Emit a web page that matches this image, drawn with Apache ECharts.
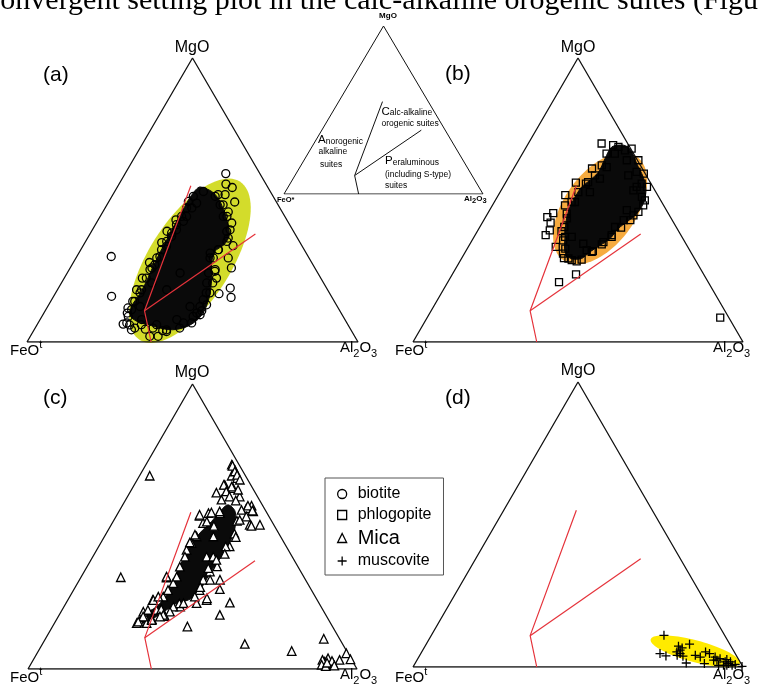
<!DOCTYPE html>
<html><head><meta charset="utf-8">
<script src="https://cdn.jsdelivr.net/npm/echarts@6/dist/echarts.min.js"></script>
<style>html,body{margin:0;padding:0;background:#fff}#c{width:762px;height:687px}</style>
</head><body><div id="c"></div>
<script>
// Ternary compositions written as [Al2O3 %, MgO %]; FeOt = 100 - Al2O3 - MgO
const triangleCorners = [[0,0],[100,0],[0,100],[0,0]];
const boundaryUpper = [22,55];
const boundaryJunction = [30,11];
const boundaryRight = [50,38];
const boundaryBase = [37.5,0];

// (a) biotite: outline of the densely overlapped core + individually visible analyses
const biotiteCore = [[25.0,54.6],[29.3,53.0],[33.0,50.1],[36.5,46.0],[40.1,41.3],[42.4,37.4],[42.4,34.3],[40.8,31.9],[41.9,27.8],[44.8,21.9],[47.1,16.1],[48.1,10.8],[47.5,7.6],[45.4,5.3],[41.8,4.3],[37.7,4.9],[33.6,6.1],[29.5,7.3],[26.5,9.3],[25.3,12.5],[25.6,16.7],[25.4,21.3],[24.8,26.6],[24.4,31.9],[24.2,37.0],[24.0,41.3],[23.9,46.2],[23.8,50.7],[24.2,53.6]];
const biotite = [[30.4,59.3],[32.3,55.6],[34.8,54.4],[38.1,49.3],[37.9,45.8],[40.9,41.9],[40.9,38.9],[45.3,33.9],[46.0,29.6],[48.7,26.1],[46.0,22.5],[51.9,19.0],[49.5,17.0],[53.8,15.7],[10.4,30.1],[17.5,16.1],[25.9,6.3],[25.2,10.2],[29.4,4.3],[36.1,2.0],[38.6,2.0],[47.3,11.0],[46.2,10.2],[43.9,6.7],[40.3,3.7],[36.1,6.1],[30.7,7.9],[30.1,4.9],[26.1,9.0],[27.9,12.5],[24.8,14.3],[23.9,18.4],[24.4,25.5],[25.1,30.1],[27.3,20.8],[25.4,39.5],[26.1,44.2],[26.8,48.9],[26.8,53.0],[31.2,51.3],[33.9,51.9],[34.2,48.3],[42.5,36.6],[40.5,29.6],[44.1,25.5],[43.9,20.8],[45.5,17.3],[45.7,9.0],[41.3,7.9],[43.0,12.5],[33.0,18.4],[34.1,24.3],[25.0,27.2],[25.3,33.7],[25.5,17.3],[25.1,37.2],[26.0,42.5],[26.2,47.2],[37.2,44.2],[41.6,32.5],[39.7,31.3],[42.7,24.3],[45.8,14.9],[46.0,12.5],[26.8,6.7],[23.6,22.5],[23.2,35.0],[23.5,43.0],[24.0,49.5],[24.5,12.0],[28.0,6.0],[33.5,4.5],[39.0,4.0],
  [25.9,11.4],[25.4,14.3],[25.4,18.4],[24.8,22.5],[24.7,26.1],[24.4,29.6],[24.4,32.5],[24.5,35.4],[24.5,38.4],[24.5,41.3],[24.6,44.2],[24.6,47.2],[24.6,51.3],[23.0,28.0],[22.8,39.0],
  [31.8,51.9],[35.1,48.3],[38.3,44.2],[41.6,39.5],[42.7,35.4],[41.5,32.5],[41.5,29.6],[44.3,24.9],[45.7,20.8],[46.6,17.3],[47.7,13.1],[47.5,9.6],[46.4,6.7],[43.7,4.9],[40.0,4.3],[35.6,4.9],[31.5,6.1]];
const biotiteFieldCenter = [34.9,28.6];
const biotiteFieldAxes = [28.3,12.4];
const biotiteFieldAngle = [57.7];

// (b) phlogopite
const phlogopiteCore = [[25.9,68.7],[29.2,69.3],[32.1,67.7],[36.4,62.8],[40.7,58.1],[43.9,53.4],[45.4,48.7],[45.2,45.2],[43.7,42.3],[42.2,39.9],[41.5,36.4],[39.7,34.0],[37.7,31.7],[36.4,29.4],[33.1,29.4],[30.2,31.7],[27.3,37.6],[25.0,42.9],[23.8,47.5],[23.6,51.7],[23.8,54.6],[25.1,56.9],[26.3,59.9],[25.9,64.6]];
const phlogopite = [[22.2,69.9],[27.9,68.7],[30.5,67.5],[32.8,64.0],[37.8,59.9],[35.9,58.7],[41.4,55.8],[45.7,48.1],[44.5,44.6],[41.6,46.4],[41.0,40.5],[41.4,37.6],[40.1,35.2],[23.7,61.1],[21.3,56.1],[24.9,56.3],[20.3,51.7],[24.4,49.3],[19.8,45.4],[18.7,44.0],[20.7,42.0],[21.8,39.3],[21.4,37.6],[24.9,43.5],[27.6,37.0],[29.7,32.9],[32.4,29.4],[35.4,28.4],[36.5,32.3],[37.5,23.8],[33.7,21.1],[29.6,37.0],[34.3,34.6],[22.0,48.1],[27.2,52.8],[27.9,57.5],[27.9,61.6],[28.0,66.3],[40.1,53.4],[42.4,42.9],[88.8,8.6],[40.5,54.6],[43.8,51.1],[26.5,33.5],[25.5,39.0],[31.0,29.5],[38.5,32.0],
  [29.9,31.1],[27.6,35.8],[25.6,40.5],[24.0,45.2],[23.4,49.3],[23.7,52.8],[24.5,55.8],[25.8,58.7],[26.1,62.2],[25.5,66.3],[26.0,69.3],
  [32.2,68.1],[36.3,64.0],[40.3,59.3],[43.6,54.6],[45.3,49.9],[45.4,45.8],[44.4,42.9],[42.9,40.3],[41.7,37.0],[40.0,34.4],[38.3,31.7],[36.6,29.0],[33.7,28.8]];
const phlogopiteFieldCenter = [33.2,47.0];
const phlogopiteFieldAxes = [19.25,10.9];
const phlogopiteFieldAngle = [54.6];

// (c) Mica
const micaCore = [[32.0,57.6],[35.3,55.3],[38.2,49.4],[39.2,44.2],[39.1,39.4],[38.6,35.4],[38.5,30.7],[38.4,26.6],[36.6,24.2],[33.7,23.1],[31.7,20.7],[29.2,17.8],[26.0,16.1],[24.8,18.4],[28.2,21.9],[29.2,27.7],[28.2,34.8],[27.8,41.8],[28.4,47.7],[29.9,51.7],[30.7,55.3]];
const mica = [[3.1,67.8],[12.1,32.2],[26.1,71.7],[28.1,69.7],[28.0,67.8],[30.1,67.0],[27.5,64.6],[30.6,63.5],[34.1,60.5],[29.1,59.4],[39.3,57.3],[38.2,56.4],[40.8,55.3],[45.2,50.6],[42.1,50.6],[25.3,53.7],[27.5,54.7],[31.0,54.7],[27.6,44.2],[34.6,39.4],[36.6,39.4],[26.1,32.1],[38.2,34.2],[44.3,28.0],[38.3,27.7],[49.7,23.3],[42.2,24.2],[48.8,19.0],[41.0,14.9],[25.8,24.2],[28.7,20.7],[32.3,18.6],[35.3,21.9],[61.5,8.8],[77.0,6.3],[84.6,10.6],[94.0,5.5],[93.1,3.2],[96.3,3.4],[88.9,2.6],[90.8,1.8],[89.3,3.8],[91.7,2.0],[87.9,3.2],[25.7,16.6],[25.0,16.1],[26.3,18.4],[28.0,16.1],[28.9,17.5],[25.0,20.1],[28.2,35.9],[27.3,41.8],[28.0,46.5],[27.6,51.2],[29.1,30.1],[28.4,25.4],[33.1,46.5],[39.7,23.1],[37.6,31.3],[42.7,31.3],[88.5,1.5],[90.0,1.0],[91.0,2.8],[89.8,2.2],[92.5,1.2],[39.5,36.0],[39.8,43.0],[39.0,47.5],[37.5,52.0],[30.0,21.0],[34.5,23.0],
  [26.5,71.3],[28.2,69.3],[29.5,68.1],[31.2,66.4],[27.2,64.6],[29.9,64.0],[32.4,62.9],[26.3,61.9],[29.1,62.3],[31.0,60.5],[33.6,59.1],[38.2,57.3],[40.4,55.6],[37.0,55.8],[39.6,53.5],[42.8,50.2],[38.2,52.3],[30.6,55.3],[28.3,54.9],[25.1,54.1],[28.5,51.7],[31.4,50.2],[40.0,46.3],[38.6,43.0],[39.6,40.4],[38.1,38.3],[37.1,35.4],[39.7,31.3],[38.0,28.7],[42.0,24.8],[38.0,25.4],[35.7,23.1],[33.2,21.9],[33.1,20.1],[31.6,19.0],[26.0,24.2],[25.9,32.4],[27.0,44.4],[27.2,47.1],[28.0,39.4],[29.0,32.4],[28.7,27.7],[26.9,25.4],[26.1,20.7],[25.8,18.4],[25.2,16.6],[29.0,17.2],[30.9,18.4]];

// (d) muscovite
const muscovite = [[70.5,11.1],[72.5,4.7],[74.7,3.9],[76.8,7.3],[78.2,6.7],[78.6,4.7],[79.9,3.8],[79.8,8.0],[82.1,1.4],[83.5,4.1],[86.0,5.3],[87.5,4.7],[87.7,1.2],[89.8,3.5],[91.6,2.9],[93.7,1.8],[95.0,1.2],[96.4,0.6],[92.3,0.6],[99.6,0.2],[85.3,3.5],[89.9,2.4],[93.8,0.6],[78.0,4.1],[93.8,2.6],[97.2,0.9],[90.9,2.4],[95.3,1.8],[94.8,0.6],[78.0,5.9],[77.3,5.3]];
const muscoviteFieldCenter = [82.8,5.5];
const muscoviteFieldAxes = [14.0,3.3];
const muscoviteFieldAngle = [-15];

const legendNames = ['biotite','phlogopite','Mica','muscovite'];

const H = Math.sqrt(3) / 2;
function toXY(p) { const al = p[0] / 100, mg = p[1] / 100; return [al + mg / 2, mg * H]; }

const grids = [
  {left: 27, top: 58, width: 331, height: 284},
  {left: 413, top: 58, width: 330, height: 284},
  {left: 28, top: 384, width: 329, height: 285},
  {left: 413, top: 382, width: 330, height: 285},
  {left: 284, top: 26, width: 199, height: 168}
];

const RED = '#e5333b';
const series = [];

function outline(gi, color, width) {
  series.push({type: 'line', xAxisIndex: gi, yAxisIndex: gi, data: triangleCorners.map(toXY),
    symbol: 'none', lineStyle: {color: color, width: width}, silent: true, z: 3});
}
function boundaries(gi, color, width) {
  [[boundaryUpper, boundaryJunction, boundaryBase], [boundaryJunction, boundaryRight]].forEach(function (seg) {
    series.push({type: 'line', xAxisIndex: gi, yAxisIndex: gi, data: seg.map(toXY),
      symbol: 'none', lineStyle: {color: color, width: width}, silent: true, z: 5});
  });
}
function core(gi, pts) {
  series.push({type: 'custom', xAxisIndex: gi, yAxisIndex: gi, data: [[0, 0]], silent: true, z: 2,
    renderItem: function (params, api) {
      return {type: 'polygon', shape: {points: pts.map(function (p) { return api.coord(toXY(p)); }), smooth: 0.3},
        style: {fill: '#0a0a0a', stroke: '#0a0a0a', lineWidth: 1}};
    }});
}
function field(gi, center, axes, angle, fill) {
  series.push({type: 'custom', xAxisIndex: gi, yAxisIndex: gi, data: [[0, 0]], silent: true, z: 1,
    renderItem: function (params, api) {
      const c = api.coord(toXY(center));
      const side = api.size([1, 0])[0];
      const a = axes[0] / 100 * side, b = axes[1] / 100 * side;
      const th = angle[0] * Math.PI / 180;
      const pts = [];
      for (let k = 0; k < 96; k++) {
        const t = k / 96 * 2 * Math.PI;
        const ex = a * Math.cos(t), ey = b * Math.sin(t);
        pts.push([c[0] + ex * Math.cos(th) - ey * Math.sin(th), c[1] - (ex * Math.sin(th) + ey * Math.cos(th))]);
      }
      return {type: 'polygon', shape: {points: pts}, style: {fill: fill}};
    }});
}
function points(gi, name, arr, symbol, size, fill) {
  series.push({type: 'scatter', name: name, xAxisIndex: gi, yAxisIndex: gi, data: arr.map(toXY),
    symbol: symbol, symbolSize: size, silent: true, z: 4,
    itemStyle: {color: fill, borderColor: '#000', borderWidth: 1.3, opacity: 1}});
}

const PLUS = 'path://M5,0L5,10M0,5L10,5';

field(0, biotiteFieldCenter, biotiteFieldAxes, biotiteFieldAngle, '#d3dc2b');
core(0, biotiteCore);
points(0, 'biotite', biotite, 'circle', 8, 'transparent');
outline(0, '#111', 1.3); boundaries(0, RED, 1.2);

field(1, phlogopiteFieldCenter, phlogopiteFieldAxes, phlogopiteFieldAngle, '#f6ab3f');
core(1, phlogopiteCore);
points(1, 'phlogopite', phlogopite, 'rect', 7, 'transparent');
outline(1, '#111', 1.3); boundaries(1, RED, 1.2);

core(2, micaCore);
points(2, 'Mica', mica, 'triangle', 8.5, '#fff');
outline(2, '#111', 1.3); boundaries(2, RED, 1.2);

field(3, muscoviteFieldCenter, muscoviteFieldAxes, muscoviteFieldAngle, '#ffea00');
points(3, 'muscovite', muscovite, PLUS, 9, 'transparent');
outline(3, '#111', 1.3); boundaries(3, RED, 1.2);

outline(4, '#111', 1); boundaries(4, '#111', 1);

const SANS = '"Liberation Sans", Arial, sans-serif';
const graphics = [];
function txt(x, y, text, o) {
  graphics.push({type: 'text', x: x, y: y, silent: true, z: 10,
    style: Object.assign({text: text, fill: '#000', fontFamily: SANS, fontSize: 15, align: 'left', verticalAlign: 'middle'}, o || {})});
}
const feRich = {m: {fontSize: 15, lineHeight: 19, verticalAlign: 'bottom', fontFamily: SANS}, p: {fontSize: 11, lineHeight: 19, verticalAlign: 'top', fontFamily: SANS}};
const alRich = {m: {fontSize: 15, lineHeight: 19, verticalAlign: 'top', fontFamily: SANS}, s: {fontSize: 11, lineHeight: 19, verticalAlign: 'bottom', fontFamily: SANS}};
const panelLabels = [
  {mg: [192, 48], fe: [10, 349], al: [340, 350], tag: [43, 75], t: '(a)'},
  {mg: [578, 48], fe: [395, 349], al: [713, 350], tag: [445, 74], t: '(b)'},
  {mg: [192, 373], fe: [10, 676], al: [340, 677], tag: [43, 398], t: '(c)'},
  {mg: [578, 371], fe: [395, 676], al: [713, 677], tag: [445, 398], t: '(d)'}
];
panelLabels.forEach(function (L) {
  txt(L.mg[0], L.mg[1], 'MgO', {align: 'center', fontSize: 16});
  txt(L.fe[0], L.fe[1], '{m|FeO}{p|t}', {rich: feRich});
  txt(L.al[0], L.al[1], '{m|Al}{s|2}{m|O}{s|3}', {rich: alRich});
  txt(L.tag[0], L.tag[1], L.t, {fontSize: 21});
});

// inset labels
const sm = {fontSize: 8.5, lineHeight: 12, verticalAlign: 'bottom', fontFamily: SANS};
const bg = {fontSize: 11.5, lineHeight: 12, verticalAlign: 'bottom', fontFamily: SANS};
txt(388, 16, 'MgO', {align: 'center', fontSize: 8, fontWeight: 'bold'});
txt(277, 199.5, 'FeO*', {fontSize: 7.5, fontWeight: 'bold'});
txt(464, 200, '{m|Al}{s|2}{m|O}{s|3}', {rich: {m: {fontSize: 8, fontWeight: 'bold', fontFamily: SANS, lineHeight: 10, verticalAlign: 'top'}, s: {fontSize: 7.5, fontWeight: 'bold', fontFamily: SANS, lineHeight: 10, verticalAlign: 'bottom'}}});
txt(318, 140, '{b|A}{s|norogenic}', {rich: {b: bg, s: sm}});
txt(318.5, 152, 'alkaline', {fontSize: 8.5});
txt(320, 164.5, 'suites', {fontSize: 8.5});
txt(381.5, 111.5, '{b|C}{s|alc-alkaline}', {rich: {b: bg, s: sm}});
txt(381.5, 123.5, 'orogenic suites', {fontSize: 8.5});
txt(385, 161, '{b|P}{s|eraluminous}', {rich: {b: bg, s: sm}});
txt(385, 174.5, '(including S-type)', {fontSize: 8.5});
txt(385, 185.5, 'suites', {fontSize: 8.5});

// cropped caption line at the very top
txt(-13, 16, 'convergent setting plot in the calc-alkaline orogenic suites (Figu', {fontFamily: '"Liberation Serif", "Times New Roman", serif', fontSize: 30, verticalAlign: 'bottom'});

const chart = echarts.init(document.getElementById('c'), null, {renderer: 'canvas'});
chart.setOption({
  animation: false,
  backgroundColor: '#fff',
  grid: grids.map(function (g) { return Object.assign({containLabel: false}, g); }),
  xAxis: grids.map(function (g, i) { return {gridIndex: i, type: 'value', min: 0, max: 1, show: false}; }),
  yAxis: grids.map(function (g, i) { return {gridIndex: i, type: 'value', min: 0, max: H, show: false}; }),
  legend: {
    left: 325, top: 478, orient: 'vertical', selectedMode: false,
    data: [
      {name: 'biotite', icon: 'circle'},
      {name: 'phlogopite', icon: 'rect'},
      {name: 'Mica', icon: 'triangle'},
      {name: 'muscovite', icon: PLUS}
    ],
    itemWidth: 9, itemHeight: 9, itemGap: 5,
    padding: [8, 12, 6, 12],
    borderColor: '#555', borderWidth: 1,
    itemStyle: {color: 'transparent', borderColor: '#000', borderWidth: 1.3},
    formatter: function (name) { return name === 'Mica' ? '{k|Mica}' : '{n|' + name + '}'; },
    textStyle: {fontSize: 16, color: '#000', fontFamily: SANS,
      rich: {n: {fontSize: 16, lineHeight: 20, padding: [0, 0, 0, 6], fontFamily: SANS},
             k: {fontSize: 20, lineHeight: 24, padding: [0, 0, 0, 6], fontFamily: SANS}}}
  },
  graphic: graphics,
  series: series
});
</script>
</body></html>
